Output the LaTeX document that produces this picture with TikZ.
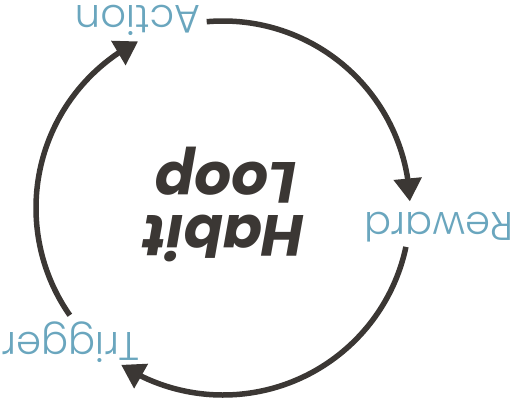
\documentclass[tikz,border=0pt]{standalone}
\usepackage{fontspec}
\usetikzlibrary{arrows.meta,bending}
\newfontfamily\labelfont{Poppins Light}
\newfontfamily\titlefont{Poppins}
\definecolor{loopdark}{HTML}{3B3734}
\definecolor{loopblue}{HTML}{6AA6BE}
\tikzset{
  looparc/.style={draw=loopdark, line width=5.5pt,
    -{Triangle[length=23pt,width=27pt,flex]}},
  steplabel/.style={text=loopblue, font=\labelfont\fontsize{40}{44}\selectfont,
    rotate=180, anchor=base, inner sep=0pt},
  titletext/.style={text=loopdark, font=\titlefont\bfseries\itshape\fontsize{58}{60}\selectfont,
    rotate=180, anchor=base, inner sep=0pt}
}
\begin{document}
\begin{tikzpicture}[x=1pt,y=1pt]
\useasboundingbox (0,0) rectangle (511,-407);
\coordinate (c) at (223,-208);
\node[steplabel] (action) at (138,-5) {Action};
\node[steplabel] (reward) at (439,-212) {Reward};
\node[steplabel] (trigger) at (71,-332) {Trigger};
\node[titletext] (habit) at (224,-215) {Habit};
\node[titletext] (loop) at (226,-162) {Loop};
\path[looparc] ([shift={(95:187)}]c) arc[start angle=95, end angle=2, radius=187];
\path[looparc] ([shift={(-12:187)}]c) arc[start angle=-12, end angle=-123, radius=187];
\path[looparc] ([shift={(215:187)}]c) arc[start angle=215, end angle=117, radius=187];
\end{tikzpicture}
\end{document}
